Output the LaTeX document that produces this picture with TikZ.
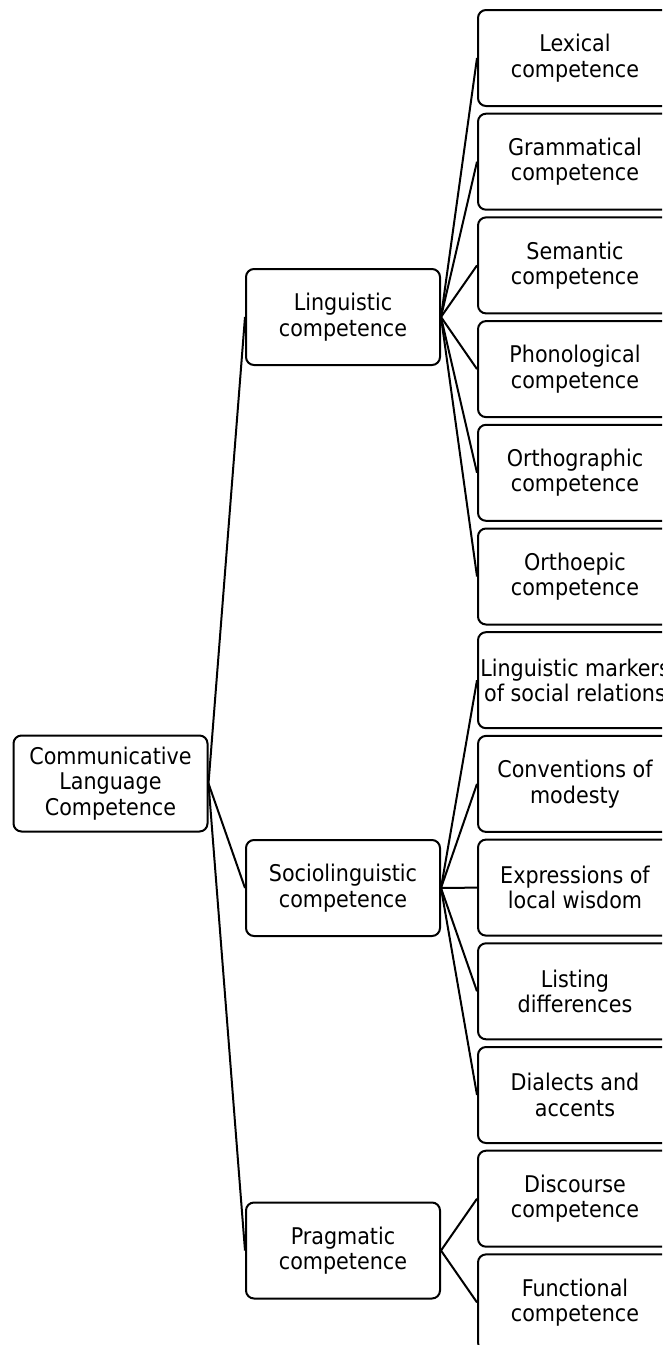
\documentclass[tikz,border=0pt]{standalone}
\usepackage{fontspec}
\setmainfont{DejaVu Sans Condensed}
\begin{document}
\begin{tikzpicture}[x=1pt,y=-1pt,
  box/.style={draw=black,line width=2pt,rounded corners=8pt,fill=white,
    minimum width=194pt,minimum height=96pt,align=center,inner sep=0pt,
    font=\fontsize{23}{25.5}\selectfont},
  link/.style={draw=black,line width=2pt}]
\useasboundingbox (0,0) rectangle (662,1345);
\clip (0,0) rectangle (662,1345);
\node[box] (root) at (110.5,783.5) {Communicative\\Language\\Competence};
\node[box] (ling) at (343,317) {Linguistic\\competence};
\node[box] (soc) at (343,888) {Sociolinguistic\\competence};
\node[box] (prag) at (343,1250.5) {Pragmatic\\competence};
\node[box] (r0) at (575,58) {Lexical\\competence};
\node[box] (r1) at (575,161.7) {Grammatical\\competence};
\node[box] (r2) at (575,265.4) {Semantic\\competence};
\node[box] (r3) at (575,369.1) {Phonological\\competence};
\node[box] (r4) at (575,472.8) {Orthographic\\competence};
\node[box] (r5) at (575,576.5) {Orthoepic\\competence};
\node[box] (r6) at (575,680.2) {Linguistic markers\\of social relations};
\node[box] (r7) at (575,783.9) {Conventions of\\modesty};
\node[box] (r8) at (575,887.6) {Expressions of\\local wisdom};
\node[box] (r9) at (575,991.3) {Listing\\differences};
\node[box] (r10) at (575,1095) {Dialects and\\accents};
\node[box] (r11) at (575,1198.7) {Discourse\\competence};
\node[box] (r12) at (575,1302.4) {Functional\\competence};
\foreach \c in {ling,soc,prag} \draw[link] (root.east) -- (\c.west);
\foreach \c in {r0,r1,r2,r3,r4,r5} \draw[link] (ling.east) -- (\c.west);
\foreach \c in {r6,r7,r8,r9,r10} \draw[link] (soc.east) -- (\c.west);
\foreach \c in {r11,r12} \draw[link] (prag.east) -- (\c.west);
\end{tikzpicture}
\end{document}
